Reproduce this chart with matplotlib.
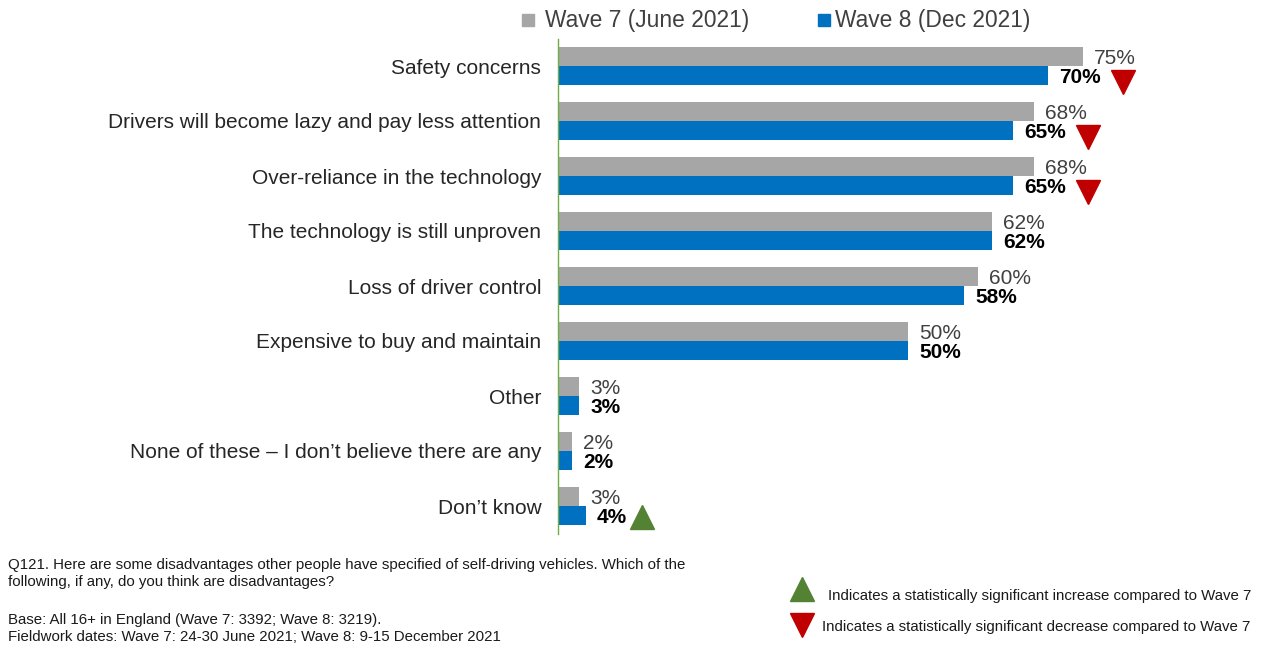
import matplotlib
matplotlib.use("Agg")
import matplotlib.pyplot as plt
import matplotlib.transforms as mtransforms
import matplotlib.lines as mlines
import numpy as np

plt.rcParams['font.family'] = ['Liberation Sans', 'DejaVu Sans']

categories = [
    "Safety concerns",
    "Drivers will become lazy and pay less attention",
    "Over-reliance in the technology",
    "The technology is still unproven",
    "Loss of driver control",
    "Expensive to buy and maintain",
    "Other",
    "None of these \u2013 I don\u2019t believe there are any",
    "Don\u2019t know",
]
wave7 = [75, 68, 68, 62, 60, 50, 3, 2, 3]
wave8 = [70, 65, 65, 62, 58, 50, 3, 2, 4]
# significance vs Wave 7: -1 decrease, +1 increase, 0 none
change = [-1, -1, -1, 0, 0, 0, 0, 0, 1]
series_names = ["Wave 7 (June 2021)", "Wave 8 (Dec 2021)"]

GREY = "#A6A6A6"
BLUE = "#0070C0"
RED = "#C00000"
GREEN = "#548235"
TEXT = "#262626"

fig = plt.figure(figsize=(12.63, 6.46), dpi=100)
ax = fig.add_axes([558 / 1263, (646 - 533.5) / 646, 700 / 1263, 495 / 646])

y = np.arange(len(categories))
h = 0.345
ax.barh(y - h / 2, wave7, height=h, color=GREY)
ax.barh(y + h / 2, wave8, height=h, color=BLUE)

ax.set_xlim(0, 100)
ax.set_ylim(len(categories) - 0.5, -0.5)
ax.set_yticks(y)
ax.set_yticklabels(categories, fontsize=15, color=TEXT)
ax.tick_params(axis='y', length=0, pad=12)
ax.set_xticks([])
for s in ["top", "right", "bottom"]:
    ax.spines[s].set_visible(False)
ax.spines["left"].set_color("#70AD47")
ax.spines["left"].set_linewidth(1.0)

down_shift = ax.transData + mtransforms.ScaledTranslation(54 / 72, 0, fig.dpi_scale_trans)
up_shift = ax.transData + mtransforms.ScaledTranslation(40 / 72, 0, fig.dpi_scale_trans)

LABEL_FS = 15
# shift the baseline down by half the digit height so the digits sit centred on the bar
baseline_dy = -0.36 * LABEL_FS

for yi, v7, v8, c in zip(y, wave7, wave8, change):
    ax.annotate(f"{v7}%", (v7, yi - h / 2), xytext=(8, baseline_dy), textcoords="offset points",
                va="baseline", ha="left", fontsize=LABEL_FS, color="#404040")
    ax.annotate(f"{v8}%", (v8, yi + h / 2), xytext=(8, baseline_dy), textcoords="offset points",
                va="baseline", ha="left", fontsize=LABEL_FS, fontweight="bold", color="#000000")
    if c < 0:
        ax.plot([v8], [yi + h / 2 + 0.12], marker="v", markersize=17.5, color=RED,
                transform=down_shift, clip_on=False)
    elif c > 0:
        ax.plot([v8], [yi + h / 2 + 0.02], marker="^", markersize=17, color=GREEN,
                transform=up_shift, clip_on=False)

# top legend
fig.patches.append(plt.Rectangle((522 / 1263, 1 - 26 / 646), 12 / 1263, 12 / 646,
                                 transform=fig.transFigure, color=GREY))
fig.text(545 / 1263, 1 - 20 / 646, series_names[0], fontsize=16.4, color="#404040", va="center")
fig.patches.append(plt.Rectangle((818 / 1263, 1 - 26 / 646), 12 / 1263, 12 / 646,
                                 transform=fig.transFigure, color=BLUE))
fig.text(835 / 1263, 1 - 20 / 646, series_names[1], fontsize=16.4, color="#404040", va="center")

# footnotes
note_kw = dict(fontsize=10.8, va="center", color="#1a1a1a")
fig.text(8 / 1263, 1 - 565 / 646,
         "Q121. Here are some disadvantages other people have specified of self-driving vehicles. Which of the",
         **note_kw)
fig.text(8 / 1263, 1 - 582 / 646,
         "following, if any, do you think are disadvantages?", **note_kw)
fig.text(8 / 1263, 1 - 620 / 646,
         "Base: All 16+ in England (Wave 7: 3392; Wave 8: 3219).", **note_kw)
fig.text(8 / 1263, 1 - 637 / 646,
         "Fieldwork dates: Wave 7: 24-30 June 2021; Wave 8: 9-15 December 2021", **note_kw)

# significance key
fig.lines.append(mlines.Line2D([802 / 1263], [1 - 589 / 646], marker="^", markersize=17,
                               color=GREEN, transform=fig.transFigure))
fig.text(828 / 1263, 1 - 596 / 646, "Indicates a statistically significant increase compared to Wave 7",
         **note_kw)
fig.lines.append(mlines.Line2D([802 / 1263], [1 - 625 / 646], marker="v", markersize=17,
                               color=RED, transform=fig.transFigure))
fig.text(822 / 1263, 1 - 627 / 646, "Indicates a statistically significant decrease compared to Wave 7",
         **note_kw)

fig.savefig("out.png", dpi=100)
